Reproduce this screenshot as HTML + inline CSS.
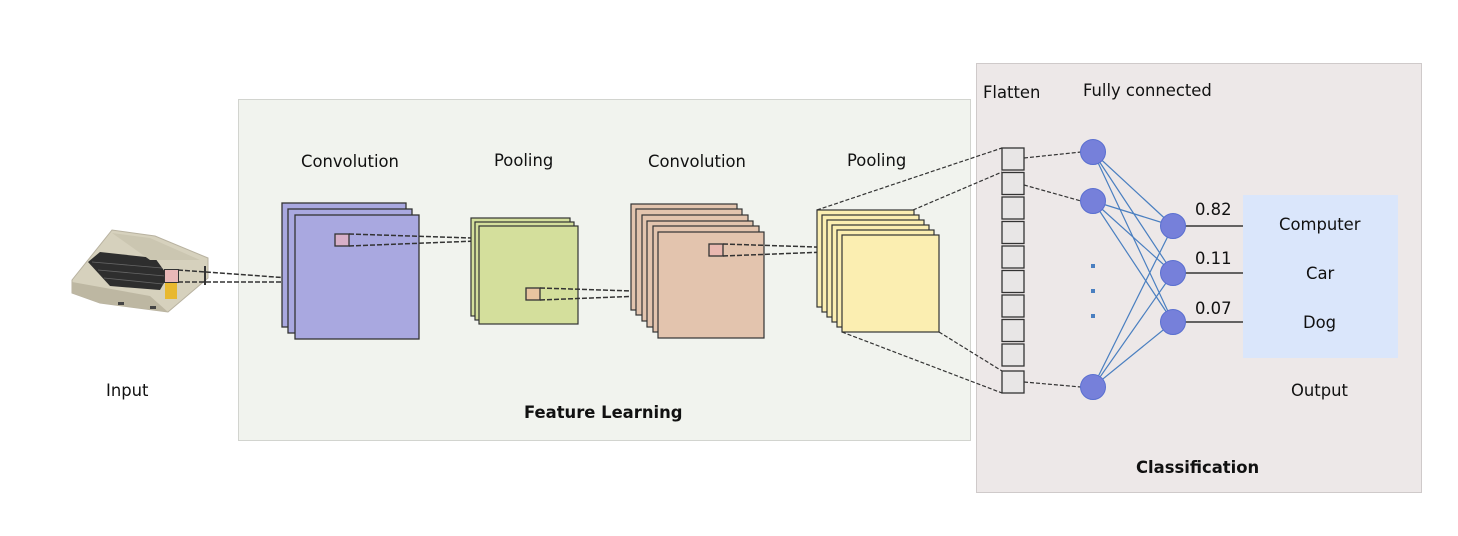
<!DOCTYPE html>
<html><head><meta charset="utf-8"><style>
html,body{margin:0;padding:0;background:#fff;width:1458px;height:536px;overflow:hidden}
svg{display:block}
text{font-family:"DejaVu Sans","Liberation Sans",sans-serif;font-size:16.4px;fill:#111}
</style></head><body>
<svg width="1458" height="536" viewBox="0 0 1458 536" xmlns="http://www.w3.org/2000/svg">
<rect x="238.5" y="99.5" width="732" height="341" fill="#f1f3ee" stroke="#d2d4cf"/>
<rect x="976.5" y="63.5" width="445" height="429" fill="#ede8e8" stroke="#cfcaca"/>

<!-- input computer -->
<g>
<polygon points="72,280 112,230 155,236 208,258 208,278 168,312 100,303 72,293" fill="#d6d1bd" stroke="#b8b2a0"/>
<polygon points="72,282 150,296 168,312 100,303 72,293" fill="#bdb7a2"/>
<polygon points="88,262 100,252 155,258 168,276 160,290 110,286" fill="#2e2e2e"/>
<g stroke="#666" stroke-width="0.8"><line x1="92" y1="262" x2="162" y2="268"/><line x1="98" y1="270" x2="165" y2="276"/><line x1="104" y1="278" x2="163" y2="284"/></g>
<polygon points="112,233 150,238 200,260 150,260" fill="#cbc6b1"/>
<rect x="165" y="283" width="12" height="16" fill="#e8b830"/>
<rect x="118" y="302" width="6" height="3" fill="#444"/><rect x="150" y="306" width="6" height="3" fill="#444"/>
<line x1="205" y1="266" x2="205" y2="285" stroke="#333" stroke-width="2"/>
</g>
<rect x="164.5" y="269.5" width="14" height="13" fill="#e9b8b8" stroke="#333"/>
<g stroke="#333" stroke-width="1.5" stroke-dasharray="5,2" fill="none">
<line x1="178" y1="270" x2="330" y2="281"/>
<line x1="178" y1="282" x2="330" y2="282"/>
</g>

<!-- conv1 -->
<g fill="#a9a8e0" stroke="#333" stroke-width="1.3">
<rect x="282" y="203" width="124" height="124"/>
<rect x="288" y="209" width="124" height="124"/>
<rect x="295" y="215" width="124" height="124"/>
</g>
<rect x="335" y="234" width="14" height="12" fill="#d8b0c8" stroke="#333" stroke-width="1.3"/>
<g stroke="#333" stroke-width="1.5" stroke-dasharray="5,2" fill="none">
<line x1="349" y1="234" x2="502" y2="239"/>
<line x1="349" y1="246" x2="502" y2="240"/>
</g>

<!-- pool1 -->
<g fill="#d4df9c" stroke="#333" stroke-width="1.2">
<rect x="471" y="218" width="99" height="98"/>
<rect x="475" y="222" width="99" height="98"/>
<rect x="479" y="226" width="99" height="98"/>
</g>
<rect x="526" y="288" width="14" height="12" fill="#e8c4a0" stroke="#333" stroke-width="1.3"/>
<g stroke="#333" stroke-width="1.5" stroke-dasharray="5,2" fill="none">
<line x1="540" y1="288" x2="693" y2="293"/>
<line x1="540" y1="300" x2="693" y2="294"/>
</g>

<!-- conv2 -->
<g fill="#e3c4ae" stroke="#333" stroke-width="1.2">
<rect x="631" y="204" width="106" height="106"/>
<rect x="636" y="209" width="106" height="106"/>
<rect x="642" y="215" width="106" height="106"/>
<rect x="647" y="221" width="106" height="106"/>
<rect x="653" y="226" width="106" height="106"/>
<rect x="658" y="232" width="106" height="106"/>
</g>
<rect x="709" y="244" width="14" height="12" fill="#eab8b0" stroke="#333" stroke-width="1.3"/>
<g stroke="#333" stroke-width="1.5" stroke-dasharray="5,2" fill="none">
<line x1="723" y1="244" x2="877" y2="249"/>
<line x1="723" y1="256" x2="877" y2="250"/>
</g>

<!-- pool2 -->
<g fill="#fbeeb1" stroke="#333" stroke-width="1.2">
<rect x="817" y="210" width="97" height="97"/>
<rect x="822" y="215" width="97" height="97"/>
<rect x="827" y="220" width="97" height="97"/>
<rect x="832" y="225" width="97" height="97"/>
<rect x="837" y="230" width="97" height="97"/>
<rect x="842" y="235" width="97" height="97"/>
</g>
<g stroke="#333" stroke-width="1.2" stroke-dasharray="4,2" fill="none">
<line x1="817" y1="210" x2="1002" y2="148"/>
<line x1="913" y1="210" x2="1002" y2="172"/>
<line x1="842" y1="332" x2="1002" y2="393"/>
<line x1="939" y1="332" x2="1002" y2="371"/>
<line x1="1024" y1="158" x2="1081" y2="152"/>
<line x1="1024" y1="185" x2="1081" y2="201"/>
<line x1="1024" y1="382" x2="1081" y2="387"/>
</g>

<!-- flatten -->
<g fill="#e8e6e6" stroke="#333" stroke-width="1.3">
<rect x="1002" y="148" width="22" height="22"/>
<rect x="1002" y="172.5" width="22" height="22"/>
<rect x="1002" y="197" width="22" height="22"/>
<rect x="1002" y="221.5" width="22" height="22"/>
<rect x="1002" y="246" width="22" height="22"/>
<rect x="1002" y="270.5" width="22" height="22"/>
<rect x="1002" y="295" width="22" height="22"/>
<rect x="1002" y="319.5" width="22" height="22"/>
<rect x="1002" y="344" width="22" height="22"/>
<rect x="1002" y="371" width="22" height="22"/>
</g>

<!-- FC -->
<g stroke="#4a7fc0" stroke-width="1.2">
<line x1="1093" y1="152" x2="1173" y2="226"/><line x1="1093" y1="152" x2="1173" y2="273"/><line x1="1093" y1="152" x2="1173" y2="322"/>
<line x1="1093" y1="201" x2="1173" y2="226"/><line x1="1093" y1="201" x2="1173" y2="273"/><line x1="1093" y1="201" x2="1173" y2="322"/>
<line x1="1093" y1="387" x2="1173" y2="226"/><line x1="1093" y1="387" x2="1173" y2="273"/><line x1="1093" y1="387" x2="1173" y2="322"/>
</g>
<g stroke="#111" stroke-width="1.3">
<line x1="1173" y1="226" x2="1243" y2="226"/>
<line x1="1173" y1="273" x2="1243" y2="273"/>
<line x1="1173" y1="322" x2="1243" y2="322"/>
</g>
<g fill="#7680da" stroke="#5a6fd0" stroke-width="1">
<circle cx="1093" cy="152" r="12.5"/><circle cx="1093" cy="201" r="12.5"/><circle cx="1093" cy="387" r="12.5"/>
<circle cx="1173" cy="226" r="12.5"/><circle cx="1173" cy="273" r="12.5"/><circle cx="1173" cy="322" r="12.5"/>
</g>
<g fill="#4a7fc0"><rect x="1091" y="264" width="4" height="4"/><rect x="1091" y="289" width="4" height="4"/><rect x="1091" y="314" width="4" height="4"/></g>

<rect x="1243" y="195" width="155" height="163" fill="#dae6fb"/>

<text x="301" y="167">Convolution</text>
<text x="494" y="166">Pooling</text>
<text x="648" y="167">Convolution</text>
<text x="847" y="166">Pooling</text>
<text x="983" y="98">Flatten</text>
<text x="1083" y="96">Fully connected</text>
<text x="106" y="396">Input</text>
<text x="1291" y="396">Output</text>
<text x="1195" y="215">0.82</text>
<text x="1195" y="264">0.11</text>
<text x="1195" y="314">0.07</text>
<text x="1279" y="230">Computer</text>
<text x="1306" y="279">Car</text>
<text x="1303" y="328">Dog</text>
<text x="524" y="418" font-weight="bold">Feature Learning</text>
<text x="1136" y="473" font-weight="bold">Classification</text>
</svg>
</body></html>
